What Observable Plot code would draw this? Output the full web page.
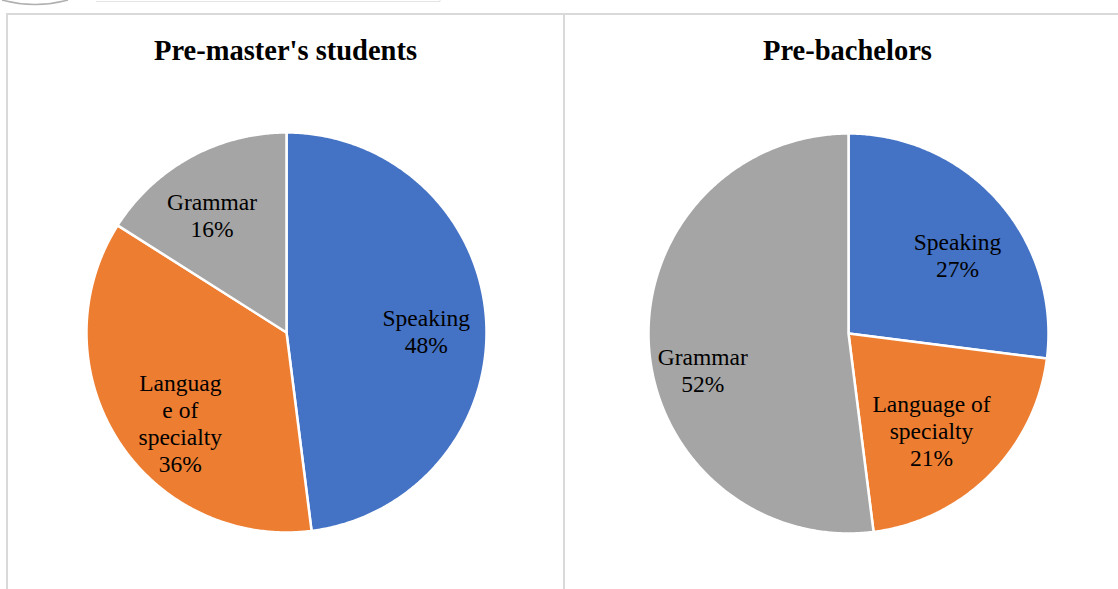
<!DOCTYPE html>
<html>
<head>
<meta charset="utf-8">
<script src="https://cdn.jsdelivr.net/npm/d3@7"></script>
<script src="https://cdn.jsdelivr.net/npm/@observablehq/plot@0.6"></script>
<style>
  html, body { margin: 0; padding: 0; background: #fff; }
  #root { position: relative; width: 1118px; height: 589px; overflow: hidden; font-family: "Liberation Serif", "Times New Roman", serif; }
  .panel { position: absolute; box-sizing: border-box; border-top: 2px solid #d9d9d9; border-left: 2px solid #d9d9d9; }
  .title { position: absolute; width: 500px; text-align: center; font-weight: bold; font-size: 28.5px; line-height: 28px; color: #000; }
  .pie { position: absolute; }
  .pie svg, .pie svg g, .pie svg text, .pie svg tspan { font-family: "Liberation Serif", serif !important; }
  #deco { position: absolute; left: 0; top: 0; }
</style>
</head>
<body>
<div id="root">
  <svg id="deco" width="460" height="12">
    <path d="M2,0 Q35,9 68,0" fill="none" stroke="#b0b0b0" stroke-width="1.5"/>
    <path d="M96,1.5 H440 V-2" fill="none" stroke="#e4e4e4" stroke-width="1"/>
  </svg>
  <div class="panel" style="left:6px; top:13px; width:560px; height:600px;"></div>
  <div class="panel" style="left:563px; top:13px; width:600px; height:600px;"></div>
</div>
<script>
// ---- data ----
const categories = ["Speaking", "Language of specialty", "Grammar"];
const sliceColors = ["#4472C4", "#ED7D31", "#A5A5A5"];
const titles = ["Pre-master's students", "Pre-bachelors"];
const premasterValues = [48, 36, 16];
const prebachelorValues = [27, 21, 52];
const premasterLabels = ["Speaking\n48%", "Languag\ne of\nspecialty\n36%", "Grammar\n16%"];
const prebachelorLabels = ["Speaking\n27%", "Language of\nspecialty\n21%", "Grammar\n52%"];

// ---- layout (styling only) ----
const layouts = [
  {cx: 285.5, cy: 332, nudges: [[0, 7], [12, 15], [-7, 5]]},
  {cx: 847.5, cy: 333, nudges: [[4, 14], [-16, -2], [-6, 28]]}
];
const SIZE = 420, R = 1, DOM = 1.05;

function slices(values) {
  const arcs = d3.pie().sort(null).value(d => d)(values);
  const pts = [];
  arcs.forEach((a, i) => {
    const cat = categories[i];
    pts.push({category: cat, x: 0, y: 0});
    const n = Math.max(2, Math.ceil((a.endAngle - a.startAngle) / (Math.PI / 360)));
    for (let k = 0; k <= n; k++) {
      const t = a.startAngle + (a.endAngle - a.startAngle) * k / n;
      pts.push({category: cat, x: R * Math.sin(t), y: R * Math.cos(t)});
    }
  });
  return {arcs, pts};
}

function drawPie(values, labels, layout) {
  const {arcs, pts} = slices(values);
  const labelData = arcs.map((a, i) => {
    const m = (a.startAngle + a.endAngle) / 2;
    return {category: categories[i], label: labels[i], x: 0.7 * Math.sin(m), y: 0.7 * Math.cos(m), i};
  });
  const textMarks = labelData.map(d => Plot.text([d], {
    x: "x", y: "y", text: "label",
    dx: layout.nudges[d.i][0], dy: layout.nudges[d.i][1],
    fontFamily: "Liberation Serif", fontSize: 23.5, lineHeight: 1.15,
    fill: "#000", textAnchor: "middle"
  }));
  const svg = Plot.plot({
    width: SIZE, height: SIZE,
    margin: 0,
    x: {domain: [-DOM, DOM], axis: null},
    y: {domain: [-DOM, DOM], axis: null},
    color: {domain: categories, range: sliceColors},
    style: {background: "transparent", overflow: "visible", fontFamily: "Liberation Serif, serif"},
    marks: [
      Plot.line(pts, {x: "x", y: "y", z: "category", fill: "category", stroke: "#fff", strokeWidth: 2.5, curve: "linear-closed", strokeLinejoin: "round"}),
      ...textMarks
    ]
  });
  svg.querySelectorAll("text, g").forEach(el => {
    el.setAttribute("font-family", "Liberation Serif, serif");
    el.style.fontFamily = "'Liberation Serif', serif";
  });
  return svg;
}

const root = document.getElementById("root");
[[premasterValues, premasterLabels], [prebachelorValues, prebachelorLabels]].forEach(([vals, labs], idx) => {
  const L = layouts[idx];
  const t = document.createElement("div");
  t.className = "title";
  t.textContent = titles[idx];
  t.style.left = (L.cx - 250) + "px";
  t.style.top = "37px";
  root.appendChild(t);
  const holder = document.createElement("div");
  holder.className = "pie";
  holder.style.left = (L.cx - SIZE / 2) + "px";
  holder.style.top = (L.cy - SIZE / 2) + "px";
  holder.appendChild(drawPie(vals, labs, L));
  root.appendChild(holder);
});
</script>
</body>
</html>
